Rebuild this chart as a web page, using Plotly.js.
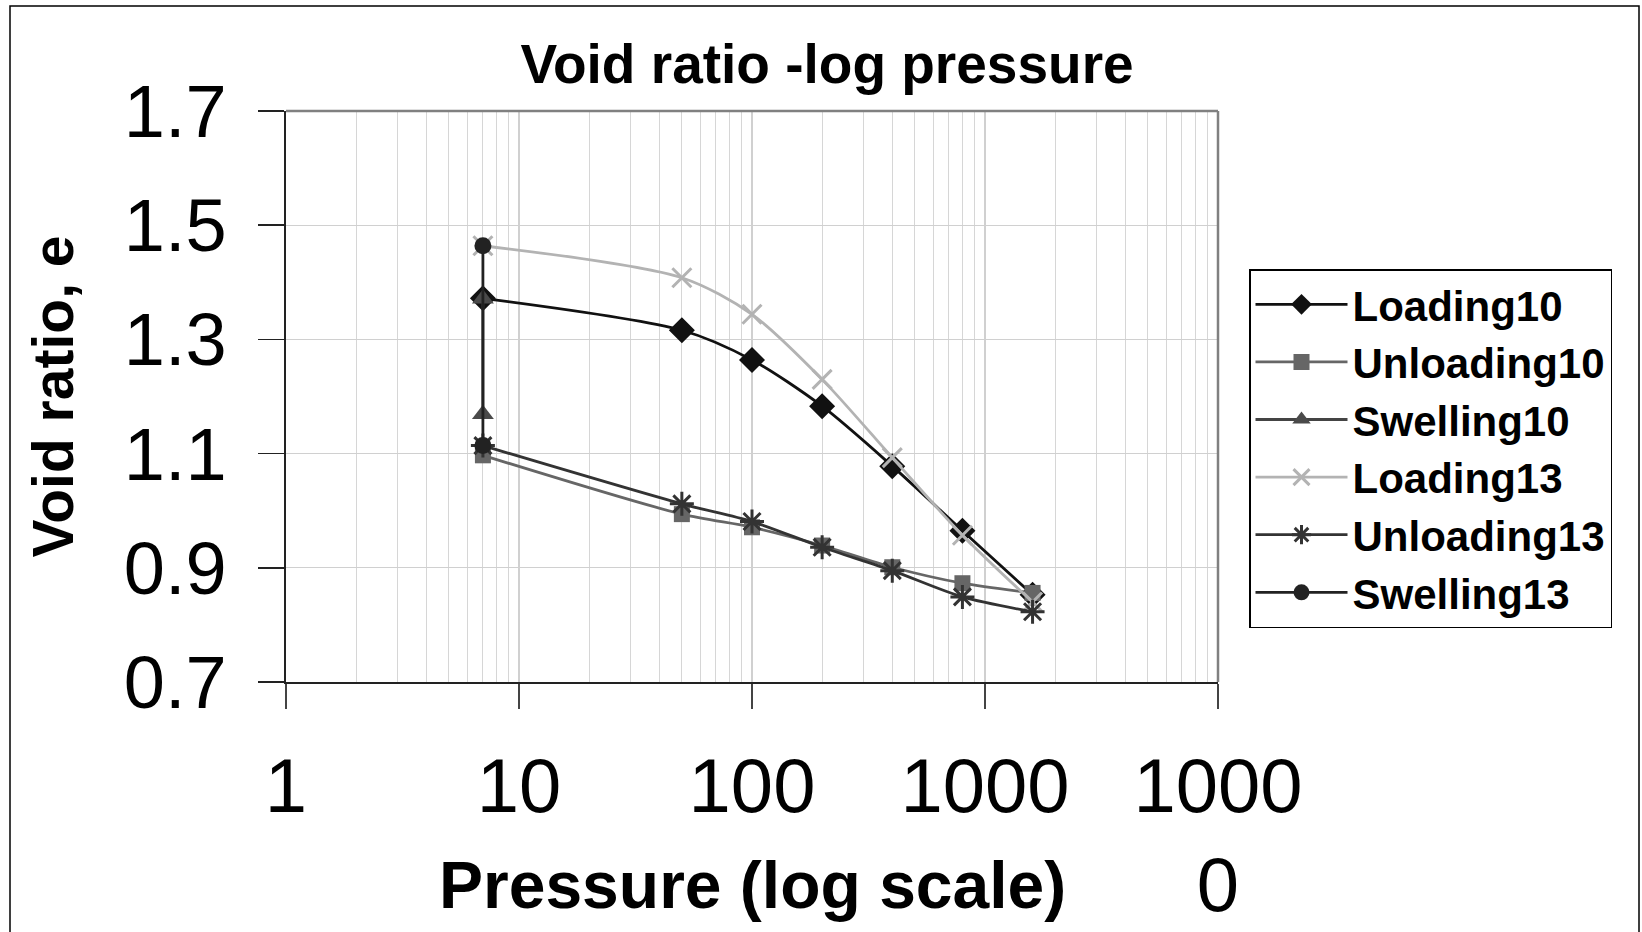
<!DOCTYPE html>
<html>
<head>
<meta charset="utf-8">
<script src="https://cdn.plot.ly/plotly-3.0.1.min.js"></script>
<style>html,body{margin:0;padding:0;background:#fff;}#chart{width:1642px;height:932px;}</style>
</head>
<body>
<div id="chart"></div>
<script>
// ---- data ----
const pressureLoad = [7, 50, 100, 200, 400, 800, 1600];
const loading10 = [1.372, 1.316, 1.264, 1.183, 1.078, 0.965, 0.853];
const loading13 = [1.464, 1.408, 1.344, 1.230, 1.093, 0.957, 0.840];
const unloading10 = [1.097, 0.994, 0.971, 0.939, 0.901, 0.873, 0.856];
const unloading13 = [1.114, 1.012, 0.981, 0.936, 0.895, 0.849, 0.823];
const pressureSwell10 = [7, 7];
const swelling10 = [1.169, 1.371];
const pressureSwell13 = [7, 7];
const swelling13 = [1.114, 1.464];
const xTickVals = [1, 10, 100, 1000, 10000];
const xTickText = ['1', '10', '100', '1000', '1000<br>0'];
const seriesNames = ['Loading10', 'Unloading10', 'Swelling10', 'Loading13', 'Unloading13', 'Swelling13'];

const FONT = 'Liberation Sans, Arial, sans-serif';

function tr(name, x, y, color, symbol, size, mcolor) {
  return {
    type: 'scatter', mode: 'lines+markers', name: name, x: x, y: y,
    line: {color: color, width: 2.8, shape: 'spline', smoothing: 0.8},
    marker: {symbol: symbol, size: size, color: mcolor || color, line: {width: 0, color: mcolor || color}}
  };
}

const data = [
  tr(seriesNames[0], pressureLoad, loading10, '#111111', 'diamond', 20, '#111111'),
  tr(seriesNames[1], pressureLoad, unloading10, '#666666', 'square', 16, '#666666'),
  tr(seriesNames[2], pressureSwell10, swelling10, '#444444', 'triangle-up', 19, '#4a4a4a'),
  tr(seriesNames[3], pressureLoad, loading13, '#b3b3b3', 'x-thin-open', 19, '#b3b3b3'),
  tr(seriesNames[4], pressureLoad, unloading13, '#333333', 'asterisk-open', 20, '#333333'),
  tr(seriesNames[5], pressureSwell13, swelling13, '#222222', 'circle', 17, '#222222')
];
data[3].marker.line = {width: 3, color: '#b3b3b3'};
data[4].marker.line = {width: 3, color: '#333333'};

// pixel helpers for decorative frame shapes
const L = 286, R = 424, T = 111, B = 250, W = 1642, H = 932;
const pw = W - L - R, ph = H - T - B;
const px = v => (v - L) / pw;
const py = v => (H - B - v) / ph;

const layout = {
  width: W, height: H,
  margin: {l: L, r: R, t: T, b: B, pad: 0},
  paper_bgcolor: '#ffffff', plot_bgcolor: '#ffffff',
  font: {family: FONT, color: '#000000'},
  title: {
    text: 'Void ratio -log pressure',
    font: {family: FONT, size: 55, weight: 'bold', color: '#000'},
    x: 827 / W, xanchor: 'center', xref: 'container',
    y: 1 - 64 / H, yanchor: 'middle', yref: 'container'
  },
  showlegend: true,
  legend: {
    x: px(1249), xanchor: 'left', y: py(269), yanchor: 'top',
    bordercolor: '#000000', borderwidth: 1.5, bgcolor: '#ffffff',
    font: {family: FONT, size: 42, weight: 'bold', color: '#000'},
    itemwidth: 92, traceorder: 'normal'
  },
  xaxis: {
    type: 'log', range: [0, 4],
    tickvals: xTickVals, ticktext: xTickText,
    tickfont: {family: FONT, size: 76, color: '#000'},
    ticks: 'outside', ticklen: 25, tickwidth: 1.5, tickcolor: '#444',
    ticklabelstandoff: 12,
    showline: true, linecolor: '#222', linewidth: 2,
    showgrid: true, gridcolor: '#d0d0d0', gridwidth: 1.2,
    minor: {dtick: 'D1', showgrid: true, gridcolor: '#d6d6d6', gridwidth: 1, ticks: ''},
    zeroline: false, fixedrange: true
  },
  yaxis: {
    range: [0.7, 1.7], tick0: 0.7, dtick: 0.2, tickformat: '.1f',
    tickfont: {family: FONT, size: 74, color: '#000'},
    ticks: 'outside', ticklen: 26, tickwidth: 1.5, tickcolor: '#222',
    ticklabelstandoff: 16,
    showline: true, linecolor: '#222', linewidth: 2.5,
    showgrid: true, gridcolor: '#d0d0d0', gridwidth: 1.2,
    zeroline: false, fixedrange: true,
    title: {text: 'Void ratio, e', font: {family: FONT, size: 57, weight: 'bold', color: '#000'}, standoff: 32}
  },
  annotations: [{
    text: 'Pressure (log scale)', xref: 'paper', yref: 'paper',
    x: px(752), y: py(885), xanchor: 'center', yanchor: 'middle', showarrow: false,
    font: {family: FONT, size: 66, weight: 'bold', color: '#000'}
  }],
  shapes: [
    {type: 'line', xref: 'paper', yref: 'paper', x0: 0, x1: 1, y0: 1, y1: 1, line: {color: '#808080', width: 2.5}, layer: 'above'},
    {type: 'line', xref: 'paper', yref: 'paper', x0: 1, x1: 1, y0: 0, y1: 1, line: {color: '#808080', width: 2.5}, layer: 'above'},
    {type: 'rect', xref: 'paper', yref: 'paper', x0: px(10), x1: px(1639), y0: py(940), y1: py(6), line: {color: '#000', width: 1.5}, fillcolor: 'rgba(0,0,0,0)', layer: 'above'}
  ]
};

Plotly.newPlot('chart', data, layout, {displayModeBar: false, staticPlot: true});
</script>
</body>
</html>
